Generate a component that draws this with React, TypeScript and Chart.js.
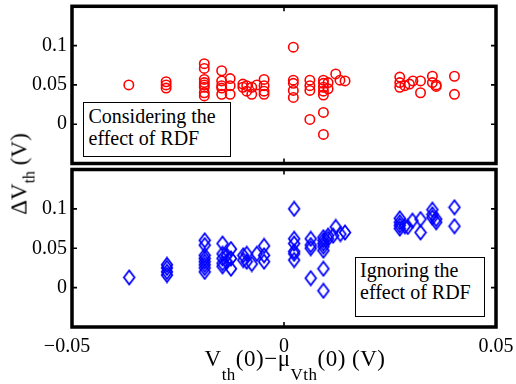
import React, { useEffect, useRef } from 'react';
import { Chart, registerables } from 'chart.js';

Chart.register(...registerables);

const X_MIN = -0.05;
const X_MAX = 0.05;
const Y_MIN = -0.05;
const Y_MAX = 0.15;
const xTickValues = [-0.05, 0, 0.05];
const xTickLabels = ['\u22120.05\u00a0\u00a0', '0', '0.05'];
const yTickValues = [0, 0.05, 0.1];
const yTickLabels = ['0', '0.05', '0.1'];

// Considering the effect of RDF (red circles)
const topX = [
  -0.0366,
  -0.0278, -0.0278, -0.0278,
  -0.0188, -0.0188, -0.0188, -0.0188, -0.0188, -0.0188, -0.0188, -0.0188,
  -0.0147, -0.0147, -0.0147, -0.0147, -0.0147,
  -0.0127, -0.0127, -0.0127,
  -0.0097, -0.0097,
  -0.0088, -0.0088,
  -0.0076, -0.0076,
  -0.0064,
  -0.0047, -0.0047, -0.0047, -0.0047,
  0.0022, 0.0022, 0.0022, 0.0022, 0.0022,
  0.0061, 0.0061, 0.0061, 0.0061,
  0.0093, 0.0093, 0.0093, 0.0093, 0.0093, 0.0093, 0.0093,
  0.0104, 0.0104,
  0.0122,
  0.0132,
  0.0144,
  0.0273, 0.0273, 0.0273,
  0.0285,
  0.0296,
  0.0304,
  0.0322, 0.0322,
  0.035, 0.035,
  0.0359, 0.0359,
  0.0402, 0.0402,
];
const topY = [
  0.05,
  0.054, 0.05, 0.046,
  0.077, 0.071, 0.057, 0.053, 0.05, 0.047, 0.04, 0.036,
  0.068, 0.055, 0.049, 0.046, 0.038,
  0.058, 0.049, 0.038,
  0.051, 0.047,
  0.049, 0.042,
  0.047, 0.038,
  0.05,
  0.057, 0.049, 0.042, 0.038,
  0.098, 0.056, 0.052, 0.043, 0.034,
  0.056, 0.049, 0.043, 0.006,
  0.056, 0.052, 0.047, 0.042, 0.037, 0.015, -0.013,
  0.053, 0.045,
  0.064,
  0.056,
  0.055,
  0.06, 0.053, 0.047,
  0.049,
  0.051,
  0.055,
  0.055, 0.04,
  0.061, 0.053,
  0.05, 0.048,
  0.061, 0.038,
];

// Ignoring the effect of RDF (blue diamonds)
const bottomX = [
  -0.0365,
  -0.0276, -0.0276, -0.0276, -0.0276,
  -0.0187, -0.0187, -0.0187, -0.0187, -0.0187, -0.0187, -0.0187, -0.0187,
  -0.0145, -0.0145, -0.0145, -0.0145, -0.0145,
  -0.0135, -0.0135,
  -0.0125, -0.0125, -0.0125,
  -0.0096, -0.0096,
  -0.0088, -0.0088,
  -0.0076,
  -0.0064,
  -0.0047, -0.0047, -0.0047,
  0.0024, 0.0024, 0.0024, 0.0024, 0.0024, 0.0024,
  0.0063, 0.0063, 0.0063, 0.0063,
  0.0093, 0.0093, 0.0093, 0.0093, 0.0093, 0.0093, 0.0093,
  0.0104, 0.0104,
  0.0116,
  0.0122,
  0.0133,
  0.0144,
  0.0273, 0.0273, 0.0273, 0.0273,
  0.0285,
  0.0292,
  0.0303,
  0.0322, 0.0322,
  0.035, 0.035, 0.035,
  0.0359, 0.0359,
  0.0402, 0.0402,
];
const bottomY = [
  0.013,
  0.029, 0.025, 0.02, 0.016,
  0.06, 0.054, 0.041, 0.037, 0.033, 0.029, 0.025, 0.02,
  0.056, 0.043, 0.037, 0.031, 0.027,
  0.041, 0.033,
  0.049, 0.037, 0.024,
  0.041, 0.035,
  0.043, 0.033,
  0.03,
  0.043,
  0.053, 0.041, 0.033,
  0.1, 0.062, 0.056, 0.046, 0.043, 0.035,
  0.062, 0.054, 0.05, 0.012,
  0.064, 0.06, 0.056, 0.052, 0.047, 0.024, -0.004,
  0.066, 0.062,
  0.066,
  0.077,
  0.068,
  0.07,
  0.088, 0.083, 0.079, 0.075,
  0.078,
  0.077,
  0.085,
  0.087, 0.07,
  0.099, 0.093, 0.089,
  0.087, 0.083,
  0.102, 0.078,
];

const FONT_FAMILY = "'Liberation Serif', 'Times New Roman', serif";

const framePlugin = {
  id: 'frame',
  afterDraw(chart: any) {
    const { ctx, chartArea: a, scales } = chart;
    ctx.save();
    ctx.strokeStyle = '#000';
    ctx.lineWidth = 1.6;
    const L = 5;
    ctx.beginPath();
    for (const v of yTickValues) {
      const p = scales.y.getPixelForValue(v);
      ctx.moveTo(a.left, p);
      ctx.lineTo(a.left + L, p);
      ctx.moveTo(a.right, p);
      ctx.lineTo(a.right - L, p);
    }
    for (const v of xTickValues) {
      const p = scales.x.getPixelForValue(v);
      ctx.moveTo(p, a.top);
      ctx.lineTo(p, a.top + L);
      ctx.moveTo(p, a.bottom);
      ctx.lineTo(p, a.bottom - L);
    }
    ctx.stroke();
    ctx.lineWidth = 3.5;
    ctx.strokeRect(a.left, a.top, a.right - a.left, a.bottom - a.top);
    ctx.restore();
  },
};

function makeDiamond(): HTMLCanvasElement {
  const c = document.createElement('canvas');
  c.width = 14;
  c.height = 17;
  const g = c.getContext('2d')!;
  g.strokeStyle = '#0000ff';
  g.lineWidth = 1.8;
  g.beginPath();
  g.moveTo(7, 1.5);
  g.lineTo(12.3, 8.5);
  g.lineTo(7, 15.5);
  g.lineTo(1.7, 8.5);
  g.closePath();
  g.stroke();
  return c;
}

function makeOptions(showX: boolean, padTop: number, padBottom: number) {
  return {
    animation: false,
    responsive: false,
    maintainAspectRatio: false,
    events: [],
    layout: { padding: { left: 0, right: 20, top: padTop, bottom: padBottom } },
    plugins: { legend: { display: false }, tooltip: { enabled: false } },
    scales: {
      x: {
        type: 'linear',
        min: X_MIN,
        max: X_MAX,
        display: showX,
        afterBuildTicks: (s: any) => {
          s.ticks = xTickValues.map((v) => ({ value: v }));
        },
        afterFit: (s: any) => {
          s.height = showX ? 57 : 0;
          s.paddingLeft = 0;
          s.paddingRight = 0;
        },
        grid: { display: false, drawTicks: false },
        border: { display: false },
        ticks: {
          padding: 8,
          color: '#000',
          maxRotation: 0,
          autoSkip: false,
          font: { family: FONT_FAMILY, size: 20 },
          callback: (_v: any, i: number) => xTickLabels[i],
        },
      },
      y: {
        type: 'linear',
        min: Y_MIN,
        max: Y_MAX,
        afterBuildTicks: (s: any) => {
          s.ticks = yTickValues.map((v) => ({ value: v }));
        },
        afterFit: (s: any) => {
          s.width = 72;
          s.paddingTop = 0;
          s.paddingBottom = 0;
        },
        grid: { display: false, drawTicks: false },
        border: { display: false },
        ticks: {
          padding: 5,
          color: '#000',
          autoSkip: false,
          font: { family: FONT_FAMILY, size: 20 },
          callback: (_v: any, i: number) => yTickLabels[i],
        },
      },
    },
  };
}

export default function App() {
  const topRef = useRef<HTMLCanvasElement>(null);
  const bottomRef = useRef<HTMLCanvasElement>(null);

  useEffect(() => {
    const topChart = new Chart(topRef.current!, {
      type: 'scatter',
      data: {
        datasets: [
          {
            data: topX.map((x, i) => ({ x, y: topY[i] })),
            pointStyle: 'circle',
            pointRadius: 4.7,
            borderColor: '#ff0000',
            backgroundColor: 'rgba(0,0,0,0)',
            borderWidth: 1.6,
          },
        ],
      },
      options: makeOptions(false, 5.5, 384 - 163.5) as any,
      plugins: [framePlugin],
    });
    const diamond = makeDiamond();
    const bottomChart = new Chart(bottomRef.current!, {
      type: 'scatter',
      data: {
        datasets: [
          {
            data: bottomX.map((x, i) => ({ x, y: bottomY[i] })),
            pointStyle: diamond as any,
            pointRadius: 6,
            borderColor: '#0000ff',
            backgroundColor: 'rgba(0,0,0,0)',
          },
        ],
      },
      options: makeOptions(true, 169.5, 0) as any,
      plugins: [framePlugin],
    });
    return () => {
      topChart.destroy();
      bottomChart.destroy();
    };
  }, []);

  const canvasStyle: React.CSSProperties = { position: 'absolute', left: 0, top: 0, width: 516, height: 384 };
  const textBase: React.CSSProperties = {
    position: 'absolute',
    fontFamily: FONT_FAMILY,
    color: '#000',
    whiteSpace: 'nowrap',
  };
  const boxStyle: React.CSSProperties = {
    ...textBase,
    boxSizing: 'border-box',
    border: '1.5px solid #000',
    background: '#fff',
    fontSize: 20,
    lineHeight: '22px',
  };

  return (
    <div style={{ position: 'fixed', left: 0, top: 0, width: 516, height: 384, background: '#fff', overflow: 'hidden' }}>
      <canvas ref={topRef} width={516} height={384} style={canvasStyle} />
      <canvas ref={bottomRef} width={516} height={384} style={canvasStyle} />
      <div style={{ ...boxStyle, left: 83, top: 102, width: 148, height: 55, padding: '1.75px 0 0 4.5px' }}>
        Considering the
        <br />
        effect of RDF
      </div>
      <div style={{ ...boxStyle, left: 355, top: 257, width: 130, height: 60, padding: '0.5px 0 0 4px' }}>
        Ignoring the
        <br />
        effect of RDF
      </div>
      <div
        style={{
          ...textBase,
          fontSize: 23,
          lineHeight: '23px',
          left: 20.2,
          top: 174,
          transform: 'translate(-50%, -50%) rotate(-90deg)',
        }}
      >
        {'\u0394V'}
        <span style={{ fontSize: 16, position: 'relative', top: 8 }}>th</span>
        {' (V)'}
      </div>
      <div
        style={{
          ...textBase,
          fontSize: 23,
          lineHeight: '23px',
          letterSpacing: '0.5px',
          left: 295,
          top: 346.7,
          transform: 'translateX(-50%)',
        }}
      >
        V<span style={{ fontSize: 17, position: 'relative', top: 14 }}>th</span>
        {'(0)\u2212\u03bc'}
        <span style={{ fontSize: 17, position: 'relative', top: 14 }}>Vth</span>
        {'(0) (V)'}
      </div>
    </div>
  );
}
